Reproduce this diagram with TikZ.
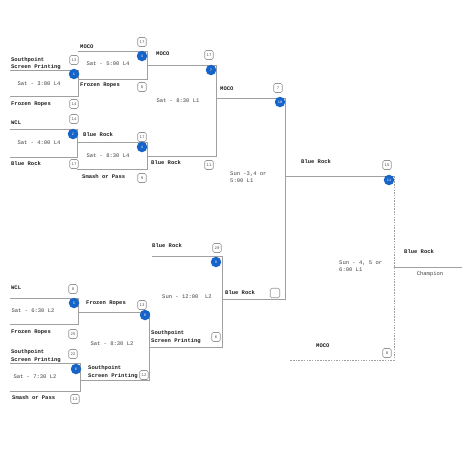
\documentclass[tikz,border=0pt]{standalone}
\usepackage{fontspec}
\usepackage{xcolor}
\usepackage{tikz}
\usetikzlibrary{arrows.meta,positioning,calc}
\newfontfamily\bracketmono{Liberation Mono}
\definecolor{ink}{RGB}{30,30,30}
\definecolor{linegray}{RGB}{160,160,160}
\definecolor{boxgray}{RGB}{150,150,150}
\definecolor{seedblue}{RGB}{22,100,200}
\tikzset{
  bline/.style={draw=linegray, line width=1pt},
  dline/.style={draw=linegray, line width=0.9pt, dash pattern=on 1.5pt off 1.2pt},
  team/.style={anchor=west, inner sep=0pt, align=left, text=ink,
    font=\bracketmono\bfseries\fontsize{5.5}{7.2}\selectfont},
  slot/.style={inner sep=0pt, align=left, text=ink!85,
    font=\bracketmono\fontsize{5.5}{7.2}\selectfont},
  score/.style={draw=boxgray, rounded corners=1.5pt, fill=white, line width=0.6pt,
    minimum width=8.5pt, minimum height=9pt, inner sep=0pt, text=ink!80,
    font=\bracketmono\fontsize{4}{4}\selectfont},
  seed/.style={circle, fill=seedblue, minimum size=10.5pt, inner sep=0pt, text=white,
    font=\bracketmono\fontsize{3.6}{3.6}\selectfont}
}

\begin{document}
\begin{tikzpicture}[x=1pt, y=-1pt]
\useasboundingbox (0,0) rectangle (474,474);

\coordinate (m1t) at (10,70);   \coordinate (m1c) at (78,70);
\coordinate (m1d) at (78,96);   \coordinate (m1b) at (10,96);
\coordinate (m2t) at (10,129);  \coordinate (m2c) at (77,129);
\coordinate (m2d) at (77,157);  \coordinate (m2b) at (10,157);
\coordinate (m3t) at (78,51);   \coordinate (m3c) at (147,51);
\coordinate (m3d) at (147,79);  \coordinate (m3b) at (78,79);
\coordinate (m4t) at (77,142);  \coordinate (m4c) at (147,142);
\coordinate (m4d) at (147,169); \coordinate (m4b) at (77,169);
\coordinate (m7t) at (147,65);  \coordinate (m7c) at (216,65);
\coordinate (m7d) at (216,156); \coordinate (m7b) at (147,156);
\coordinate (m10t) at (216,98); \coordinate (m10c) at (285,98);
\coordinate (m10d) at (285,299);\coordinate (m10b) at (222,299);
\coordinate (m11t) at (285,176);\coordinate (m11c) at (394,176);
\coordinate (m11d) at (394,360);\coordinate (m11b) at (290,360);
\coordinate (m11w) at (394,267);\coordinate (champ) at (462,267);
\coordinate (m5t) at (10,298);  \coordinate (m5c) at (78,298);
\coordinate (m5d) at (78,324);  \coordinate (m5b) at (10,324);
\coordinate (m6t) at (10,363);  \coordinate (m6c) at (80,363);
\coordinate (m6d) at (80,391);  \coordinate (m6b) at (10,391);
\coordinate (m8t) at (78,312);  \coordinate (m8c) at (149,312);
\coordinate (m8d) at (149,380); \coordinate (m8b) at (80,380);
\coordinate (m9t) at (152,256); \coordinate (m9c) at (222,256);
\coordinate (m9d) at (222,347); \coordinate (m9b) at (149,347);

\draw[bline] (m1t)--(m1c)--(m1d)--(m1b);
\draw[bline] (m2t)--(m2c)--(m2d)--(m2b);
\draw[bline] (m3t)--(m3c)--(m3d)--(m3b);
\draw[bline] (m4t)--(m4c)--(m4d)--(m4b);
\draw[bline] (m7t)--(m7c)--(m7d)--(m7b);
\draw[bline] (m10t)--(m10c)--(m10d)--(m10b);
\draw[bline] (m5t)--(m5c)--(m5d)--(m5b);
\draw[bline] (m6t)--(m6c)--(m6d)--(m6b);
\draw[bline] (m8t)--(m8c)--(m8d)--(m8b);
\draw[bline] (m9t)--(m9c)--(m9d)--(m9b);
\draw[bline] (m11t)--(m11c);
\draw[dline] (m11c)--(m11d)--(m11b);
\draw[bline] (m11w)--(champ);

\node[team] (m1top) at (11,63.5) {Southpoint\\Screen Printing};
\node[team] (m1bot) at (11,104) {Frozen Ropes};
\node[score] (m1s1) at (74,60) {13};
\node[score] (m1s2) at (74,104) {14};
\node[seed] (m1n) at (74,74) {1};
\node[slot] (m1time) at (39,84) {Sat - 3:00 L4};

\node[team] (m2top) at (11,123) {WCL};
\node[team] (m2bot) at (11,164) {Blue Rock};
\node[score] (m2s1) at (74,119) {14};
\node[score] (m2s2) at (74,164) {17};
\node[seed] (m2n) at (73,134) {2};
\node[slot] (m2time) at (39,143) {Sat - 4:00 L4};

\node[team] (m3top) at (80,47) {MOCO};
\node[team] (m3bot) at (80,85) {Frozen Ropes};
\node[score] (m3s1) at (142,42) {17};
\node[score] (m3s2) at (142,87) {8};
\node[seed] (m3n) at (142,56) {3};
\node[slot] (m3time) at (108,64) {Sat - 5:00 L4};

\node[team] (m4top) at (83,135) {Blue Rock};
\node[team] (m4bot) at (82,177) {Smash or Pass};
\node[score] (m4s1) at (142,137) {17};
\node[score] (m4s2) at (142,178) {9};
\node[seed] (m4n) at (142,147) {4};
\node[slot] (m4time) at (108,156) {Sat - 8:30 L4};

\node[team] (m7top) at (156,54) {MOCO};
\node[team] (m7bot) at (151,163) {Blue Rock};
\node[score] (m7s1) at (209,55) {17};
\node[score] (m7s2) at (209,165) {11};
\node[seed] (m7n) at (211,70) {7};
\node[slot] (m7time) at (178,101) {Sat - 8:30 L1};

\node[team] (m10top) at (220,89) {MOCO};
\node[team] (m10bot) at (225,293) {Blue Rock};
\node[score] (m10s1) at (278,88) {7};
\node[score, minimum width=9.5pt, minimum height=9.5pt] (m10s2) at (275,293) {};
\node[seed] (m10n) at (280,102) {10};
\node[slot, anchor=west] (m10time) at (230,177.5) {Sun -3,4 or\\5:00 L1};

\node[team] (m11top) at (301,162) {Blue Rock};
\node[team] (m11bot) at (316,346) {MOCO};
\node[score] (m11s1) at (387,165) {15};
\node[score] (m11s2) at (387,353) {8};
\node[seed] (m11n) at (389,180) {11};
\node[slot, anchor=west] (m11time) at (339,266.5) {Sun - 4, 5 or\\6:00 L1};
\node[team] (winner) at (404,252) {Blue Rock};
\node[slot] (champion) at (430,274) {Champion};

\node[team] (m9top) at (152,246) {Blue Rock};
\node[team] (m9bot) at (151,337) {Southpoint\\Screen Printing};
\node[score] (m9s1) at (217,248) {20};
\node[score] (m9s2) at (216,337) {6};
\node[seed] (m9n) at (216,262) {9};
\node[slot] (m9time) at (187,297) {Sun - 12:00\ \ L2};

\node[team] (m5top) at (11,288) {WCL};
\node[team] (m5bot) at (11,332) {Frozen Ropes};
\node[score] (m5s1) at (73,289) {8};
\node[score] (m5s2) at (73,334) {25};
\node[seed] (m5n) at (74,303) {5};
\node[slot] (m5time) at (33,311) {Sat - 6:30 L2};

\node[team] (m6top) at (11,356) {Southpoint\\Screen Printing};
\node[team] (m6bot) at (12,398) {Smash or Pass};
\node[score] (m6s1) at (73,354) {22};
\node[score] (m6s2) at (75,399) {11};
\node[seed] (m6n) at (76,369) {6};
\node[slot] (m6time) at (35,377) {Sat - 7:30 L2};

\node[team] (m8top) at (86,303) {Frozen Ropes};
\node[team] (m8bot) at (88,372) {Southpoint\\Screen Printing};
\node[score] (m8s1) at (142,305) {13};
\node[score] (m8s2) at (144,375) {12};
\node[seed] (m8n) at (145,315) {8};
\node[slot] (m8time) at (112,344) {Sat - 8:30 L2};
\end{tikzpicture}
\end{document}
